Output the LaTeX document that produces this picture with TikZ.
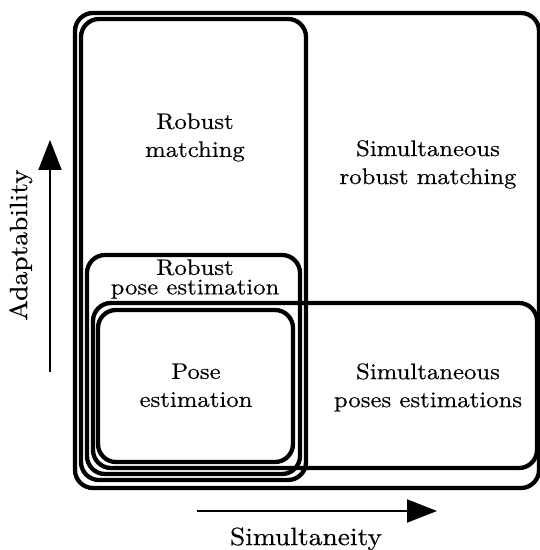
\documentclass[tikz,border=0pt]{standalone}
\usepackage{fontspec}
\setmainfont{lmroman10-regular.otf}[FakeStretch=1.1,FakeBold=0.4]
\usetikzlibrary{arrows.meta}
\begin{document}
\begin{tikzpicture}[x=1bp,y=-1bp,
  region/.style={draw, line width=4.3bp, rounded corners=18bp},
  lbl/.style={align=center, inner sep=0pt, font=\fontsize{22.5bp}{28bp}\selectfont},
  tightlbl/.style={align=center, inner sep=0pt, font=\fontsize{22.5bp}{19.5bp}\selectfont},
  axlbl/.style={inner sep=0pt, font=\fontsize{25bp}{30bp}\selectfont},
  axarrow/.style={line width=2bp, -{Triangle[length=30bp,width=23bp]}}]
\useasboundingbox (0,0) rectangle (540,550);
% regions
\draw[region] (75,13) rectangle (539,488);   % simultaneous robust matching
\draw[region] (81,19) rectangle (306,480);   % robust matching
\draw[region] (87,255) rectangle (300,474);  % robust pose estimation
\draw[region] (93,303) rectangle (537,468);  % simultaneous poses estimations
\draw[region] (98,310) rectangle (293,462);  % pose estimation
% labels
\node[lbl] (rm) at (195,137.4) {Robust\\matching};
\node[lbl] (srm) at (428,164.4) {Simultaneous\\robust matching};
\node[tightlbl] (rpe) at (195,279) {Robust\\pose estimation};
\node[lbl] (pe) at (196,385.3) {Pose\\estimation};
\node[lbl] (spe) at (428,387.4) {Simultaneous\\poses estimations};
% axes
\coordinate (hs) at (197,511);
\coordinate (he) at (437,511);
\coordinate (vs) at (50,372);
\coordinate (ve) at (50,140);
\draw[axarrow] (hs) -- (he);
\draw[axarrow] (vs) -- (ve);
\node[axlbl] (sim) at (306,538.8) {Simultaneity};
\node[axlbl, rotate=90] (ada) at (20.75,245) {Adaptability};
\end{tikzpicture}
\end{document}
